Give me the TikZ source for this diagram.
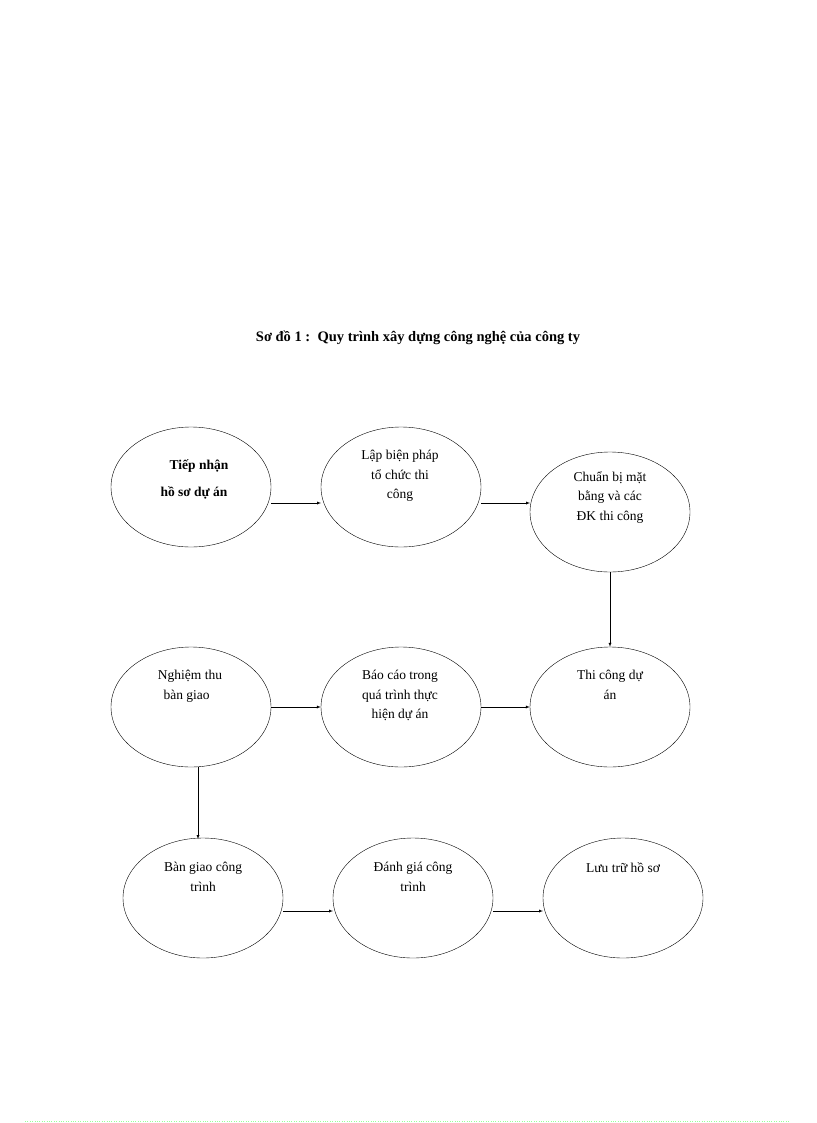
\documentclass[tikz,border=0pt]{standalone}
\usepackage{fontspec}
\usetikzlibrary{shapes.geometric}
\setmainfont{Liberation Serif}
\begin{document}
\begin{tikzpicture}[x=1pt,y=-1pt,
  el/.style={draw,thin,ellipse,minimum width=160pt,minimum height=120pt,inner sep=0pt},
  tx/.style={align=center,font=\fontsize{13.5}{19.5}\selectfont,anchor=north},
  ar/.style={-latex,thin}]
\useasboundingbox (0,0) rectangle (816,1123);
\node[font=\bfseries\fontsize{14.5}{17}\selectfont] (title) at (418,338) {Sơ đồ 1 :\ \ Quy trình xây dựng công nghệ của công ty};
\node[el] (e1) at (191,487) {};
\node[el] (e2) at (401,487) {};
\node[el] (e3) at (610,512) {};
\node[el] (e4) at (191,707) {};
\node[el] (e5) at (401,707) {};
\node[el] (e6) at (610,707) {};
\node[el] (e7) at (203,898) {};
\node[el] (e8) at (413,898) {};
\node[el] (e9) at (623,898) {};
\node[tx,font=\bfseries\fontsize{13.5}{27}\selectfont] (t1) at (194,456) {\ \ \ Tiếp nhận\\hồ sơ dự  án};
\node[tx] (t2) at (400,447) {Lập biện pháp\\tổ chức thi\\công};
\node[tx] (t3) at (610,468) {Chuẩn bị mặt\\bằng và các\\ĐK thi công};
\node[tx] (t4) at (190,667) {Nghiệm  thu\\bàn giao\ \ \ };
\node[tx] (t5) at (400,667) {Báo cáo trong\\quá trình  thực\\hiện  dự án};
\node[tx] (t6) at (610,667) {Thi công dự\\án};
\node[tx] (t7) at (203,859) {Bàn giao công\\trình};
\node[tx] (t8) at (413,859) {Đánh giá công\\trình};
\node[tx] (t9) at (623,859) {Lưu trữ hồ sơ};
\coordinate (a1) at (271,503); \coordinate (b1) at (321,503);
\draw[ar] (a1) -- (b1);
\coordinate (a2) at (481,503); \coordinate (b2) at (530,503);
\draw[ar] (a2) -- (b2);
\draw[ar] (e3.south) -- (e6.north);
\draw[ar] (e4.east) -- (e5.west);
\draw[ar] (e5.east) -- (e6.west);
\coordinate (a3) at (198,767); \coordinate (b3) at (198,839);
\draw[ar] (a3) -- (b3);
\coordinate (a4) at (283,911); \coordinate (b4) at (333,911);
\draw[ar] (a4) -- (b4);
\coordinate (a5) at (493,911); \coordinate (b5) at (543,911);
\draw[ar] (a5) -- (b5);
\coordinate (l1) at (25,1121); \coordinate (l2) at (790,1121);
\draw[green!40!white,dotted] (l1) -- (l2);
\end{tikzpicture}
\end{document}
